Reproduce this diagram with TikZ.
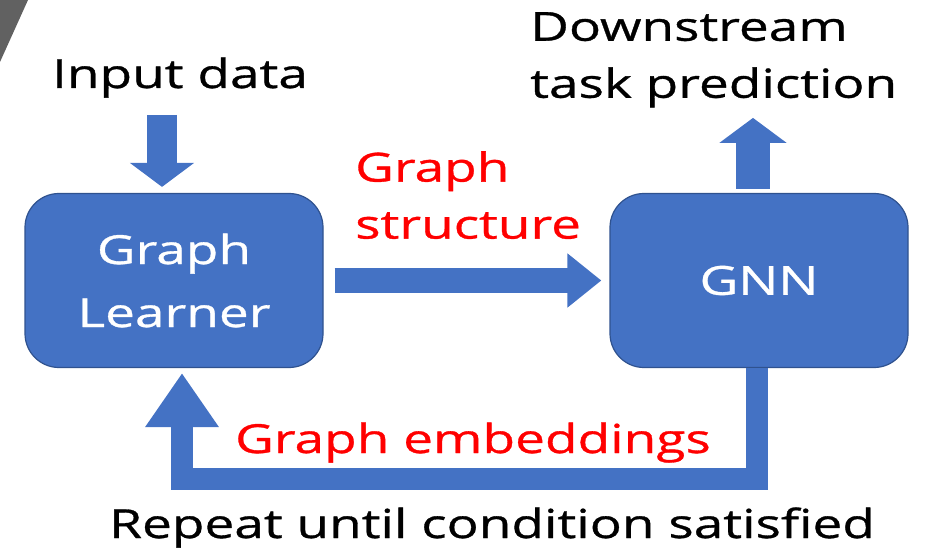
\documentclass[tikz,border=0pt]{standalone}
\usepackage{fontspec}
\setmainfont{Open Sans}[FakeStretch=1.33,FakeBold=0.8]
\usetikzlibrary{arrows.meta}
\definecolor{boxblue}{HTML}{4472C4}
\definecolor{boxedge}{HTML}{2F528F}

\begin{document}
\begin{tikzpicture}[x=1pt,y=-1pt,
  box/.style={draw=boxedge,line width=1.2pt,fill=boxblue,rounded corners=34pt,
    minimum width=298pt,minimum height=174pt,text=white,align=center,
    font=\fontsize{40}{63}\selectfont},
  lab/.style={inner sep=0pt,align=left,font=\fontsize{40}{57}\selectfont},
  redlab/.style={lab,text=red},
  fat/.style={draw=boxblue,line join=miter}]
  \useasboundingbox (0,0) rectangle (928,553);
  \fill[black!62] (0,0) -- (28,0) -- (0,62) -- cycle;

  \node[box] (learner) at (174,280.5) {Graph\\Learner};
  \node[box] (gnn) at (759,280.5) {GNN};

  \node[lab,anchor=base] (input) at (180,88) {Input data};
  \node[lab,anchor=north west] (task) at (530,12) {Downstream\\task prediction};
  \node[redlab,anchor=north west] (structure) at (355,151) {Graph\\structure};
  \node[redlab,anchor=base] (embed) at (473,453) {Graph embeddings};
  \node[lab,anchor=base] (repeat) at (492,538) {Repeat until condition satisfied};

  \draw[fat,line width=30pt,-{Triangle[length=24pt,width=63pt]}]
    ([xshift=-12pt,yshift=78pt]learner.north) -- ([xshift=-12pt,yshift=6pt]learner.north);
  \draw[fat,line width=25pt,-{Triangle[length=34pt,width=52pt]}]
    ([xshift=11pt]learner.east) -- ([xshift=-8pt]gnn.west);
  \draw[fat,line width=34pt,-{Triangle[length=25pt,width=66pt]}]
    ([xshift=-6pt,yshift=4pt]gnn.north) -- ([xshift=-6pt,yshift=75pt]gnn.north);
  \draw[fat,line width=22pt,-{Triangle[length=54pt,width=70pt]}]
    ([xshift=-2pt]gnn.south) -- ++(0,111) -| ([xshift=8pt,yshift=-5pt]learner.south);
\end{tikzpicture}
\end{document}
